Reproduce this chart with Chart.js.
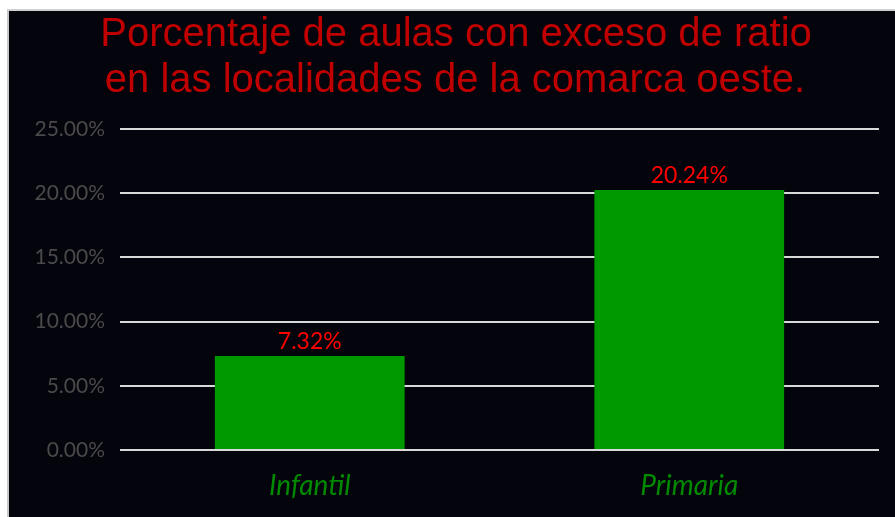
<!DOCTYPE html>
<html>
<head>
<meta charset="utf-8">
<script src="https://cdn.jsdelivr.net/npm/chart.js@4/dist/chart.umd.min.js"></script>
<style>
  body { margin: 0; background: #ffffff; }
  #box {
    position: absolute; left: 7px; top: 9px; width: 886px; height: 506px;
    background: #04040c; border-left: 2px solid #c8c8c8; border-top: 2px solid #d0d0d0;
  }
</style>
</head>
<body>
<div id="box"><canvas id="ratioChart"></canvas></div>
<script>
const categories = ["Infantil", "Primaria"];
const percentages = [7.32, 20.24];
const tickValues = [0, 5, 10, 15, 20, 25];
const titleLines = ["Porcentaje de aulas con exceso de ratio", "en las localidades de la comarca oeste."];

// etiquetas de valor encima de cada barra
const valueLabels = {
    id: "valueLabels",
    afterDatasetsDraw(chart) {
        let ctx = chart.ctx;
        let meta = chart.getDatasetMeta(0);
        ctx.save();
        ctx.fillStyle = "#ff0000";
        ctx.font = "23px Lato";
        ctx.textAlign = "center";
        ctx.textBaseline = "alphabetic";
        meta.data.forEach((bar, i) => {
            ctx.fillText(percentages[i].toFixed(2) + "%", bar.x, bar.y - 7);
        });
        ctx.restore();
    }
};

// titulo en dos lineas, centrado sobre todo el recuadro
const chartTitle = {
    id: "chartTitle",
    afterDraw(chart) {
        let ctx = chart.ctx;
        ctx.save();
        ctx.fillStyle = "#c00000";
        ctx.font = "40px 'Liberation Sans', Arial";
        ctx.textAlign = "center";
        ctx.textBaseline = "alphabetic";
        ctx.fillText(titleLines[0], 447, 35);
        ctx.fillText(titleLines[1], 446, 81);
        ctx.restore();
    }
};

new Chart("ratioChart", {
    type: "bar",
    data: {
        labels: categories,
        datasets: [{
            data: percentages,
            backgroundColor: "#009900",
            categoryPercentage: 0.5,
            barPercentage: 1
        }]
    },
    plugins: [valueLabels, chartTitle],
    options: {
        responsive: true,
        maintainAspectRatio: false,
        animation: false,
        layout: { padding: { left: 0, right: 16, top: 118, bottom: 0 } },
        plugins: {
            legend: { display: false },
            tooltip: { enabled: false },
            title: { display: false }
        },
        scales: {
            x: {
                grid: { display: false },
                border: { display: false },
                ticks: {
                    color: "#008a00",
                    font: { family: "Lato", size: 28, style: "italic" },
                    padding: 11
                },
                afterFit(scale) { scale.height = 67; }
            },
            y: {
                min: 0,
                max: 25,
                afterBuildTicks(scale) { scale.ticks = tickValues.map(v => ({ value: v })); },
                grid: { color: "#d9d9d9", lineWidth: 2, drawTicks: false },
                border: { display: false },
                ticks: {
                    color: "#4a4a4a",
                    font: { family: "Lato", size: 21 },
                    padding: 15,
                    callback: v => v.toFixed(2) + "%"
                },
                afterFit(scale) { scale.width = 111; }
            }
        }
    }
});
</script>
</body>
</html>
